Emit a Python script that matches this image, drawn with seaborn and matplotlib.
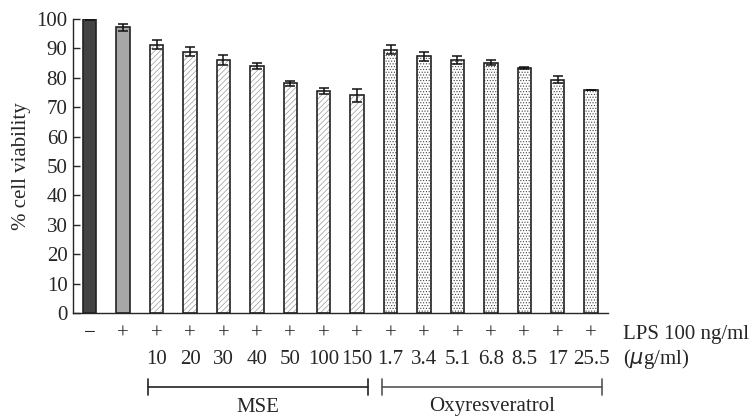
import seaborn as sns
from matplotlib import pyplot as plt
from matplotlib import transforms
from matplotlib.patches import Rectangle
import pandas as pd

lps = ['−', '+', '+', '+', '+', '+', '+', '+', '+', '+', '+', '+', '+', '+', '+', '+']
dose = ['', '', '10', '20', '30', '40', '50', '100', '150',
        '1.7', '3.4', '5.1', '6.8', '8.5', '17', '25.5']
viability = [100, 97.2, 91.2, 88.9, 86.2, 83.9, 78.1, 75.5, 74.1,
             89.5, 87.3, 86.1, 85.2, 83.4, 79.3, 75.9]
sem = [0.3, 1.2, 1.5, 1.5, 1.7, 1.0, 0.8, 1.1, 2.2,
       1.5, 1.5, 1.4, 0.8, 0.4, 1.2, 0.0]
group = ['ctrl', 'lps'] + ['MSE'] * 7 + ['Oxyresveratrol'] * 7

df = pd.DataFrame({'pos': range(len(viability)), 'v': viability})

sns.set_style('ticks')
plt.rcParams['font.family'] = ['Liberation Serif', 'DejaVu Serif']
plt.rcParams['hatch.linewidth'] = 0.5
fs = 15

fig = plt.figure(figsize=(7.49, 4.17), dpi=100)
ax = fig.add_axes([0.0975, 0.2494, 0.714, 0.705])

sns.barplot(x='pos', y='v', data=df, width=0.4, color='white',
            edgecolor='#222222', linewidth=1.2, errorbar=None, ax=ax)

# hatch takes the edge colour, so hatched bars get a separate dark outline
for bar, g in list(zip(ax.patches, group)):
    if g == 'ctrl':
        bar.set_facecolor('#434343')
        continue
    if g == 'lps':
        bar.set_facecolor('#a7a7a7')
        continue
    if g == 'MSE':
        bar.set_hatch('//////')
        bar.set_edgecolor('#9a9a9a')
    else:
        bar.set_hatch('......')
        bar.set_edgecolor('#444444')
    bar.set_linewidth(0)
    ax.add_patch(Rectangle(bar.get_xy(), bar.get_width(), bar.get_height(),
                           fill=False, edgecolor='#222222', linewidth=1.2, zorder=bar.get_zorder() + 0.1))

ax.errorbar(range(len(viability)), viability, yerr=sem, fmt='none',
            ecolor='#111111', elinewidth=1.1, capsize=3.5, capthick=1.1, zorder=5)

ax.set_xlim(-0.5, 15.5)
ax.set_ylim(0, 100)
ax.set_yticks(range(0, 101, 10))
ax.tick_params(axis='y', direction='in', length=5, width=1, labelsize=fs, pad=4)
ax.set_xticks([])
ax.set_xlabel('')
ax.set_ylabel('% cell viability', fontsize=fs, labelpad=4)
for s in ['top', 'right']:
    ax.spines[s].set_visible(False)
ax.spines['left'].set_linewidth(1)
ax.spines['bottom'].set_linewidth(1)

tr = transforms.blended_transform_factory(ax.transData, fig.transFigure)
for i in range(len(lps)):
    ax.text(i, 1 - 334 / 417, lps[i], transform=tr, ha='center', va='center', fontsize=fs)
    ax.text(i, 1 - 359 / 417, dose[i], transform=tr, ha='center', va='center', fontsize=fs)
ax.text(15.96, 1 - 334 / 417, 'LPS 100 ng/ml', transform=tr, ha='left', va='center', fontsize=fs)
ax.text(15.96, 1 - 359 / 417, '($\\mu$g/ml)', transform=tr, ha='left', va='center', fontsize=fs)

yb = 1 - 387 / 417
tick_h = 8 / 417
for name, lo, hi, col in [('MSE', 2, 8, '#222222'), ('Oxyresveratrol', 9, 15, '#555555')]:
    x0, x1 = lo - 0.25, hi + 0.32
    ax.plot([x0, x1], [yb, yb], transform=tr, color=col, lw=1.2, clip_on=False)
    for xe in (x0, x1):
        ax.plot([xe, xe], [yb - tick_h, yb + tick_h], transform=tr, color=col, lw=1.2, clip_on=False)
    ax.text((x0 + x1) / 2, 1 - 407 / 417, name, transform=tr, ha='center', va='center', fontsize=fs)

fig.savefig('out.png', dpi=100)
